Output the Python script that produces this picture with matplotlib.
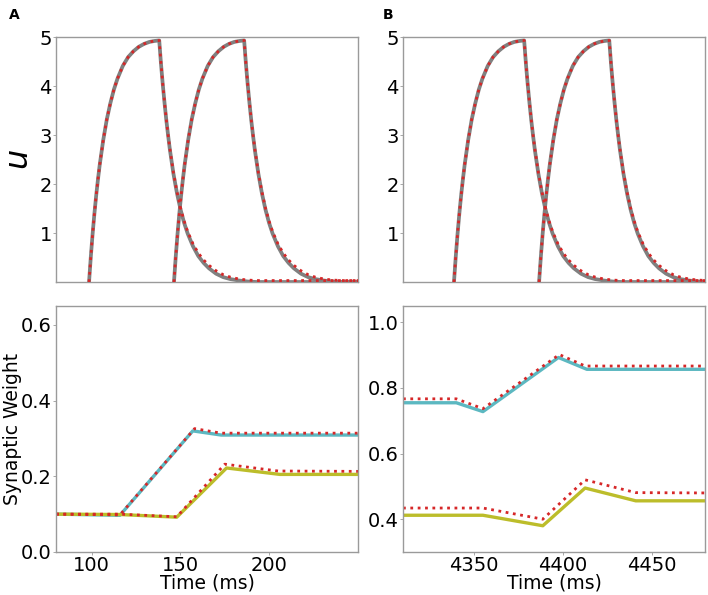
"""
Potencial de membrana y pesos sinápticos (paneles A y B)
"""

import matplotlib
matplotlib.use('Agg')
import matplotlib.pyplot as plt

# --- datos ---

# forma del potencial u: subida (ms desde el inicio) y caida (ms desde el pico)
rise_t = [0, 1, 2, 3, 4, 5, 6, 8, 10, 12, 14, 16, 19, 22, 25, 28, 31, 34, 37, 39.5]
rise_u = [0, 0.52, 0.98, 1.39, 1.76, 2.09, 2.39, 2.90, 3.32, 3.65, 3.93, 4.15,
          4.41, 4.59, 4.71, 4.80, 4.86, 4.90, 4.92, 4.93]
decay_t = [0, 1, 2, 3, 4, 5, 6, 8, 10, 12, 14, 16, 19, 22, 25, 28, 32, 36, 40,
           45, 50, 55, 120]
decay_u = [4.93, 4.45, 4.03, 3.65, 3.30, 2.99, 2.70, 2.21, 1.81, 1.48, 1.21,
           0.99, 0.73, 0.53, 0.39, 0.28, 0.17, 0.10, 0.06, 0.03, 0.01, 0.0, 0.0]
decay_u_sim = [4.93, 4.46, 4.04, 3.66, 3.31, 3.00, 2.72, 2.23, 1.84, 1.51, 1.25,
               1.03, 0.78, 0.59, 0.45, 0.34, 0.23, 0.15, 0.10, 0.06, 0.04, 0.03, 0.03]

onsets_a = [98.6, 146.4]
onsets_b = [4338.7, 4386.6]

# pesos sinapticos, panel A
wa_t_cyan = [80, 116, 157, 173, 250]
wa_cyan = [0.100, 0.097, 0.320, 0.309, 0.309]
wa_t_cyan_sim = [80, 116, 158, 173, 250]
wa_cyan_sim = [0.100, 0.098, 0.326, 0.314, 0.314]
wa_t_olive = [80, 116, 148, 176, 206, 250]
wa_olive = [0.100, 0.099, 0.092, 0.222, 0.205, 0.205]
wa_t_olive_sim = [80, 116, 148, 175, 205, 250]
wa_olive_sim = [0.100, 0.100, 0.093, 0.232, 0.214, 0.213]

# pesos sinapticos, panel B
wb_t_cyan = [4310, 4340, 4355, 4397.5, 4413.5, 4480]
wb_cyan = [0.755, 0.755, 0.728, 0.893, 0.857, 0.857]
wb_t_cyan_sim = [4310, 4340, 4355, 4398, 4412.5, 4480]
wb_cyan_sim = [0.767, 0.767, 0.737, 0.902, 0.867, 0.867]
wb_t_olive = [4310, 4355, 4388.7, 4412.5, 4441, 4480]
wb_olive = [0.412, 0.412, 0.380, 0.495, 0.456, 0.456]
wb_t_olive_sim = [4310, 4355, 4388.7, 4412.5, 4441, 4480]
wb_olive_sim = [0.434, 0.434, 0.400, 0.520, 0.481, 0.480]

GRAY = '#808080'
RED = '#d62728'
CYAN = '#5cb8c1'
OLIVE = '#bcbd2a'
SPINE = '#9a9a9a'

plt.rcParams['font.family'] = 'DejaVu Sans'

fig = plt.figure(figsize=(7.08, 5.95), dpi=100)
ax_a = fig.add_axes([0.0791, 0.526, 0.4266, 0.4118])
ax_b = fig.add_axes([0.5692, 0.526, 0.4266, 0.4118])
ax_c = fig.add_axes([0.0791, 0.0723, 0.4266, 0.4134])
ax_d = fig.add_axes([0.5692, 0.0723, 0.4266, 0.4134])


def plot_potential(ax, onsets, xlim):
    for t0 in onsets:
        tp = t0 + rise_t[-1]
        tt = [t0 + x for x in rise_t] + [tp + x for x in decay_t[1:]]
        uu = rise_u + decay_u[1:]
        us = rise_u + decay_u_sim[1:]
        ax.plot(tt, uu, color=GRAY, lw=2.7, zorder=2)
        ax.plot(tt, us, color=RED, lw=2, ls=':', zorder=3)
    ax.set_xlim(*xlim)
    ax.set_ylim(0, 5)
    ax.set_yticks([1, 2, 3, 4, 5])
    ax.set_xticks([])


plot_potential(ax_a, onsets_a, (80, 250))
plot_potential(ax_b, onsets_b, (4310, 4480))
ax_a.set_ylabel('$u$', fontsize=23)
ax_a.yaxis.set_label_coords(-0.068, 0.5)

ax_c.plot(wa_t_cyan, wa_cyan, color=CYAN, lw=2.4)
ax_c.plot(wa_t_olive, wa_olive, color=OLIVE, lw=2.4)
ax_c.plot(wa_t_cyan_sim, wa_cyan_sim, color=RED, lw=2, ls=':')
ax_c.plot(wa_t_olive_sim, wa_olive_sim, color=RED, lw=2, ls=':')
ax_c.set_xlim(80, 250)
ax_c.set_ylim(0, 0.65)
ax_c.set_xticks([100, 150, 200])
ax_c.set_yticks([0.0, 0.2, 0.4, 0.6])
ax_c.set_ylabel('Synaptic Weight', fontsize=13.5)
ax_c.yaxis.set_label_coords(-0.113, 0.5)
ax_c.set_xlabel('Time (ms)', fontsize=13.5, labelpad=-1)

ax_d.plot(wb_t_cyan, wb_cyan, color=CYAN, lw=2.4)
ax_d.plot(wb_t_olive, wb_olive, color=OLIVE, lw=2.4)
ax_d.plot(wb_t_cyan_sim, wb_cyan_sim, color=RED, lw=2, ls=':')
ax_d.plot(wb_t_olive_sim, wb_olive_sim, color=RED, lw=2, ls=':')
ax_d.set_xlim(4310, 4480)
ax_d.set_ylim(0.3, 1.05)
ax_d.set_xticks([4350, 4400, 4450])
ax_d.set_yticks([0.4, 0.6, 0.8, 1.0])
ax_d.set_xlabel('Time (ms)', fontsize=13.5, labelpad=-1)

for ax in (ax_a, ax_b, ax_c, ax_d):
    for s in ax.spines.values():
        s.set_color(SPINE)
        s.set_linewidth(1)
    ax.tick_params(labelsize=14, length=2, width=0.6, color=SPINE, pad=1)

fig.text(0.012, 0.975, 'A', fontsize=10, fontweight='bold', va='center')
fig.text(0.540, 0.975, 'B', fontsize=10, fontweight='bold', va='center')

fig.savefig('out.png', dpi=100)
